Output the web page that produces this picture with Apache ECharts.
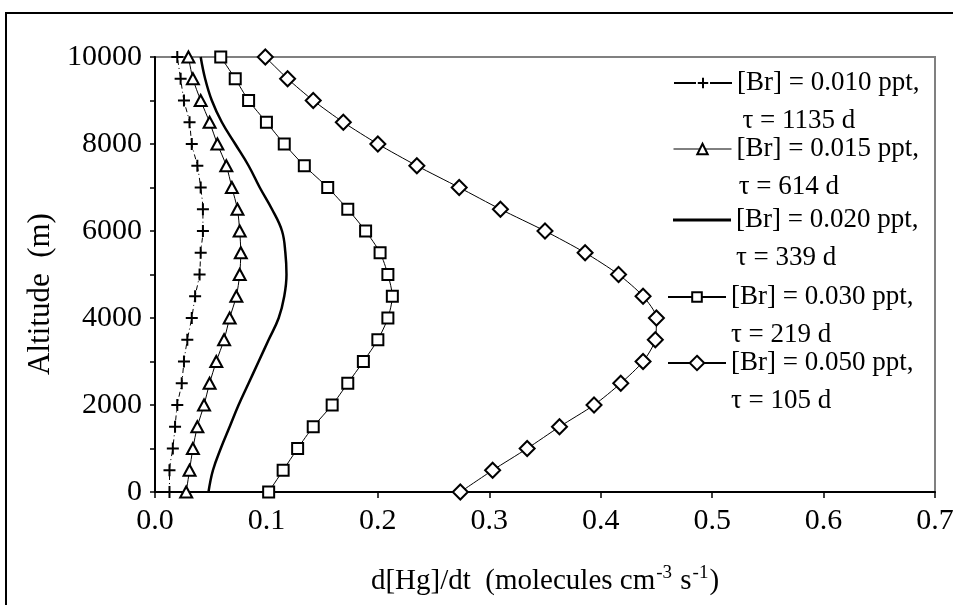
<!DOCTYPE html>
<html>
<head>
<meta charset="utf-8">
<script src="https://cdn.jsdelivr.net/npm/echarts@6/dist/echarts.min.js"></script>
<style>
  html, body { margin: 0; padding: 0; background: #fff; }
  #chart { width: 953px; height: 605px; }
</style>
</head>
<body>
<div id="chart"></div>
<script>
// Altitude levels (m), bottom to top
const altitudes = [0, 500, 1000, 1500, 2000, 2500, 3000, 3500, 4000, 4500, 5000,
                   5500, 6000, 6500, 7000, 7500, 8000, 8500, 9000, 9500, 10000];

// Hg oxidation rate d[Hg]/dt for each Br level, same altitude order
const br010 = [0.013, 0.013, 0.016, 0.018, 0.020, 0.024, 0.026, 0.029, 0.033, 0.036, 0.040,
               0.041, 0.043, 0.043, 0.041, 0.038, 0.033, 0.031, 0.026, 0.023, 0.020];
const br015 = [0.028, 0.031, 0.034, 0.038, 0.044, 0.049, 0.055, 0.062, 0.067, 0.073, 0.076,
               0.077, 0.076, 0.074, 0.069, 0.064, 0.056, 0.049, 0.041, 0.034, 0.030];
const br020 = [0.048, 0.052, 0.059, 0.067, 0.075, 0.084, 0.093, 0.102, 0.111, 0.116, 0.118,
               0.117, 0.114, 0.105, 0.094, 0.084, 0.072, 0.060, 0.051, 0.045, 0.041];
const br030 = [0.102, 0.115, 0.128, 0.142, 0.159, 0.173, 0.187, 0.200, 0.209, 0.213, 0.209,
               0.202, 0.189, 0.173, 0.155, 0.134, 0.116, 0.100, 0.084, 0.072, 0.059];
const br050 = [0.274, 0.303, 0.334, 0.363, 0.394, 0.418, 0.438, 0.449, 0.450, 0.438, 0.416,
               0.386, 0.350, 0.310, 0.273, 0.235, 0.200, 0.169, 0.142, 0.119, 0.099];

// Legend labels
const seriesNames = [
  '[Br] = 0.010 ppt,\n\u2009τ = 1135 d',
  '[Br] = 0.015 ppt,\n\u200Aτ = 614 d',
  '[Br] = 0.020 ppt,\nτ = 339 d',
  '[Br] = 0.030 ppt,\nτ = 219 d',
  '[Br] = 0.050 ppt,\nτ = 105 d'
];

const FONT = "'Liberation Serif', 'Times New Roman', serif";
const PLUS = 'path://M6,0 L6,12 M0,6 L12,6';

function pairs(values) {
  return values.map((v, i) => [v, altitudes[i]]);
}

const markerStyle = { color: '#fff', borderColor: '#000', borderWidth: 2 };

const series = [
  {
    name: seriesNames[0], type: 'line', data: pairs(br010), smooth: 0.25,
    symbol: PLUS, symbolSize: 12,
    itemStyle: { color: '#fff', borderColor: '#000', borderWidth: 2 },
    lineStyle: { color: '#000', width: 1, type: [5, 3, 1, 3] }
  },
  {
    name: seriesNames[1], type: 'line', data: pairs(br015), smooth: 0.25,
    symbol: 'triangle', symbolSize: [12, 11],
    itemStyle: markerStyle,
    lineStyle: { color: '#000', width: 1 }
  },
  {
    name: seriesNames[2], type: 'line', data: pairs(br020), smooth: 0.4,
    symbol: 'none',
    itemStyle: { color: '#000' },
    lineStyle: { color: '#000', width: 2.5 }
  },
  {
    name: seriesNames[3], type: 'line', data: pairs(br030), smooth: 0.25,
    symbol: 'rect', symbolSize: 11,
    itemStyle: markerStyle,
    lineStyle: { color: '#000', width: 1 }
  },
  {
    name: seriesNames[4], type: 'line', data: pairs(br050), smooth: 0.25,
    symbol: 'diamond', symbolSize: 15,
    itemStyle: markerStyle,
    lineStyle: { color: '#000', width: 1 }
  }
];

// One legend block per series so each entry sits at its own spot
const legendSpots = [
  { left: 673, cy: 83,  h: 13, line: { width: 2, type: [22, 14] } },
  { left: 673, cy: 149, h: 13, line: { width: 1, type: 'solid' } },
  { left: 673, cy: 220, h: 3, icon: 'rect' },
  { left: 667, cy: 297, h: 12, line: { width: 2, type: 'solid' } },
  { left: 667, cy: 363, h: 18, line: { width: 2, type: 'solid' } }
];
const LH = 38;
const legends = legendSpots.map((s, i) => {
  const lg = {
    show: true,
    orient: 'vertical',
    left: s.left,
    top: s.cy - LH * 1.5,
    padding: 0,
    itemWidth: 58,
    itemHeight: s.h,
    itemGap: 0,
    selectedMode: false,
    data: [seriesNames[i]],
    // leading blank line keeps the first text line level with the icon
    formatter: name => '\n' + name,
    textStyle: { fontFamily: FONT, fontSize: 27, color: '#000', lineHeight: LH }
  };
  if (s.icon) {
    lg.icon = s.icon;
    lg.itemStyle = { color: '#000', borderWidth: 0 };
  } else {
    lg.lineStyle = Object.assign({ color: '#000' }, s.line);
  }
  return lg;
});

const chart = echarts.init(document.getElementById('chart'), null, { renderer: 'canvas' });
chart.setOption({
  animation: false,
  backgroundColor: '#fff',
  textStyle: { fontFamily: FONT },
  grid: {
    left: 155, top: 57, width: 780, height: 435,
    containLabel: false, outerBoundsMode: 'none',
    show: true, borderColor: '#808080', borderWidth: 2, backgroundColor: 'transparent'
  },
  legend: legends,
  xAxis: {
    type: 'value', min: 0, max: 0.7, interval: 0.1,
    name: 'd[Hg]/dt  (molecules cm{sup|-3} s{sup|-1})',
    nameLocation: 'middle', nameGap: 71,
    nameTextStyle: {
      fontFamily: FONT, fontSize: 29, color: '#000', lineHeight: 36,
      rich: { sup: { fontFamily: FONT, fontSize: 19, color: '#000', padding: [0, 1, 16, 1] } }
    },
    axisLine: { show: true, onZero: false, lineStyle: { color: '#000', width: 2 } },
    axisTick: { show: true, inside: false, length: 6, lineStyle: { color: '#000', width: 1.5 } },
    axisLabel: {
      fontFamily: FONT, fontSize: 30, color: '#000', margin: 14,
      formatter: v => v.toFixed(1)
    },
    splitLine: { show: false }
  },
  yAxis: {
    type: 'value', min: 0, max: 10000, interval: 1000,
    name: 'Altitude  (m)',
    nameLocation: 'middle', nameGap: 96, nameRotate: 90,
    nameTextStyle: { fontFamily: FONT, fontSize: 31, color: '#000', padding: [0, 39, 0, 0] },
    axisLine: { show: true, onZero: false, lineStyle: { color: '#000', width: 2 } },
    axisTick: { show: true, inside: false, length: 5, lineStyle: { color: '#000', width: 1.5 } },
    axisLabel: {
      fontFamily: FONT, fontSize: 30, color: '#000', margin: 13, padding: [5, 0, 0, 0],
      formatter: v => (v % 2000 === 0 ? String(v) : '')
    },
    splitLine: { show: false }
  },
  graphic: [{
    type: 'rect', silent: true, z: -1,
    shape: { x: 6, y: 13, width: 1000, height: 800 },
    style: { fill: null, stroke: '#000', lineWidth: 2 }
  }],
  series: series
});
</script>
</body>
</html>
